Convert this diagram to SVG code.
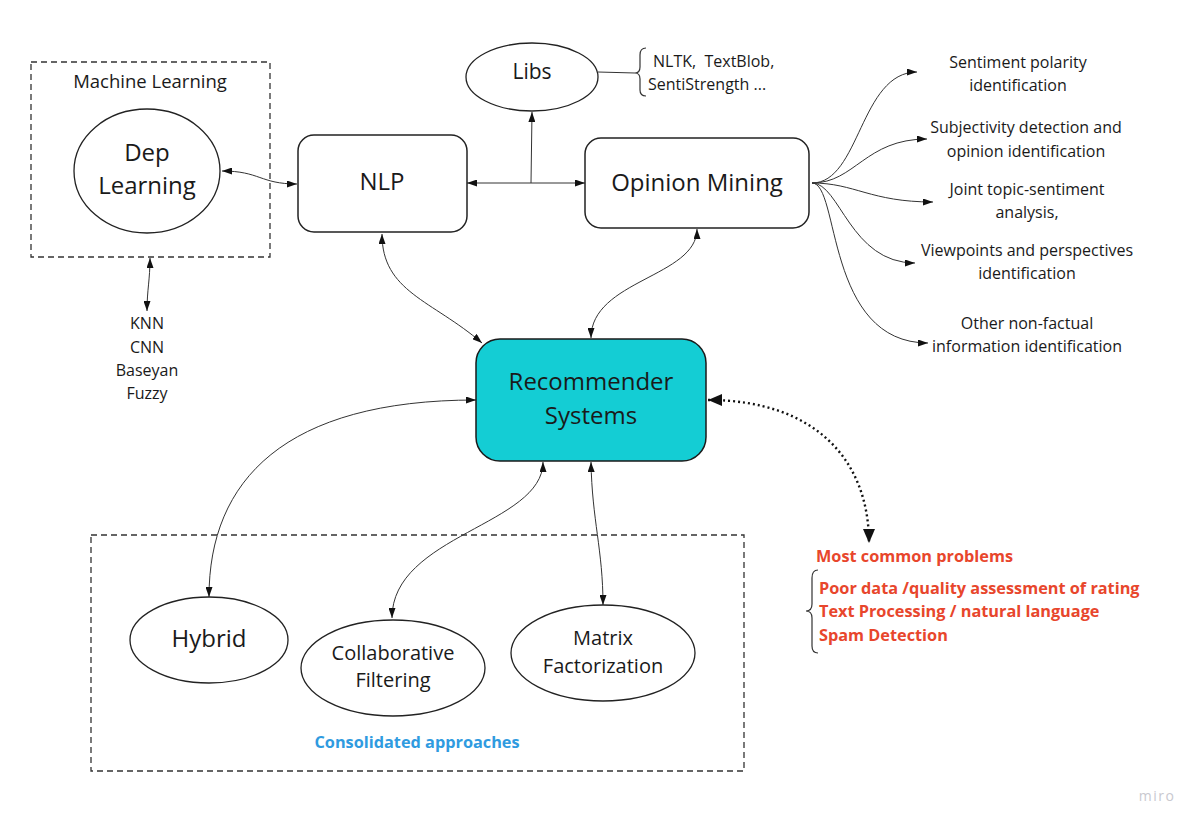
<svg xmlns="http://www.w3.org/2000/svg" width="1204" height="830" viewBox="0 0 1204 830">
<style>
text{font-family:"Open Sans","Liberation Sans",sans-serif;fill:#1a1a1a}
.t24{font-size:24px;text-anchor:middle}
.t20{font-size:20px;text-anchor:middle}
.t16{font-size:16px;text-anchor:middle}
.tl{font-size:16px}
.red{font-size:16.3px;font-weight:bold;fill:#e8462c}
.blue{font-size:16.3px;font-weight:bold;fill:#2f9be0;text-anchor:middle}
.box{fill:#fff;stroke:#222;stroke-width:1.5}
.ell{fill:#fff;stroke:#222;stroke-width:1.3}
.dash{fill:none;stroke:#333;stroke-width:1.3;stroke-dasharray:6 4}
.con{fill:none;stroke:#333;stroke-width:1}
.dot{fill:none;stroke:#111;stroke-width:2.4;stroke-dasharray:2 3}
.brace{fill:none;stroke:#333;stroke-width:1.2}
</style>
<defs>
<marker id="ah" viewBox="0 0 10 7" refX="10" refY="3.5" markerWidth="10" markerHeight="7" markerUnits="userSpaceOnUse" orient="auto-start-reverse">
<path d="M0,0 L10,3.5 L0,7 z" fill="#111"/>
</marker>
<marker id="ahb" viewBox="0 0 14 12" refX="14" refY="6" markerWidth="14" markerHeight="12" markerUnits="userSpaceOnUse" orient="auto-start-reverse">
<path d="M0,0 L14,6 L0,12 z" fill="#111"/>
</marker>
</defs>
<rect width="1204" height="830" fill="#fff"/>

<g id="machine-learning-group">
<rect class="dash" x="31" y="62" width="239" height="195"/>
<text x="150" y="88" style="font-size:18.5px;text-anchor:middle">Machine Learning</text>
</g>
<g id="consolidated-group">
<rect class="dash" x="91" y="535" width="653" height="236"/>
<text class="blue" x="417" y="748">Consolidated approaches</text>
</g>

<g id="connectors">
<path class="con" d="M222,171 C260,171 260,184 297,184" marker-start="url(#ah)" marker-end="url(#ah)"/>
<path class="con" d="M150,258 C150,280 147,290 147,311" marker-start="url(#ah)" marker-end="url(#ah)"/>
<path class="con" d="M467,183 L585,183" marker-start="url(#ah)" marker-end="url(#ah)"/>
<path class="con" d="M531,183 L532,112" marker-end="url(#ah)"/>
<path class="con" d="M598,72 L635,73"/>
<path class="con" d="M382,234 C382,292 432,300 482,343" marker-start="url(#ah)" marker-end="url(#ah)"/>
<path class="con" d="M697,229 C697,277 591,280 591,338" marker-start="url(#ah)" marker-end="url(#ah)"/>
<path class="con" d="M812,183 C860,183 860,72 917,72" marker-end="url(#ah)"/>
<path class="con" d="M812,183 C855,183 865,139 927,139" marker-end="url(#ah)"/>
<path class="con" d="M812,183 C855,183 870,202 933,202" marker-end="url(#ah)"/>
<path class="con" d="M812,183 C840,183 850,263 915,263" marker-end="url(#ah)"/>
<path class="con" d="M812,183 C840,183 825,343 928,343" marker-end="url(#ah)"/>
<path class="con" d="M209,597 C209,480 285,400 476,400" marker-start="url(#ah)" marker-end="url(#ah)"/>
<path class="con" d="M543,462 C543,525 392,535 392,618" marker-start="url(#ah)" marker-end="url(#ah)"/>
<path class="con" d="M591,462 C592,520 603,550 603,605" marker-start="url(#ah)" marker-end="url(#ah)"/>
<path class="dot" d="M708,400 C815,400 869,460 869,543" marker-start="url(#ahb)" marker-end="url(#ahb)"/>
</g>

<g id="dep-learning">
<ellipse class="ell" cx="147" cy="171" rx="73" ry="62"/>
<text class="t24" x="147" y="161">Dep</text>
<text class="t24" x="147" y="194">Learning</text>
</g>
<g id="knn-list">
<text class="t16" x="147" y="329">KNN</text>
<text class="t16" x="147" y="353">CNN</text>
<text class="t16" x="147" y="376">Baseyan</text>
<text class="t16" x="147" y="399">Fuzzy</text>
</g>
<g id="nlp">
<rect class="box" x="298" y="135" width="169" height="97" rx="16"/>
<text class="t24" x="382" y="190">NLP</text>
</g>
<g id="libs">
<ellipse class="ell" cx="532" cy="77" rx="66" ry="34"/>
<text x="532" y="79" style="font-size:21px;text-anchor:middle">Libs</text>
</g>
<g id="libs-list">
<path class="brace" d="M646,48 Q640,48 640,55 L640,67 Q640,73 635,73 Q640,73 640,79 L640,90 Q640,96 646,96"/>
<text class="tl" x="653" y="67" style="white-space:pre">NLTK,  TextBlob,</text>
<text class="tl" x="648" y="90">SentiStrength ...</text>
</g>
<g id="opinion-mining">
<rect class="box" x="585" y="138" width="224" height="90" rx="16"/>
<text class="t24" x="697" y="191">Opinion Mining</text>
</g>
<g id="om-targets">
<text class="t16" x="1018" y="68">Sentiment polarity</text>
<text class="t16" x="1018" y="91">identification</text>
<text class="t16" x="1026" y="133">Subjectivity detection and</text>
<text class="t16" x="1026" y="157">opinion identification</text>
<text class="t16" x="1027" y="195">Joint topic-sentiment</text>
<text class="t16" x="1027" y="218">analysis,</text>
<text class="t16" x="1027" y="256">Viewpoints and perspectives</text>
<text class="t16" x="1027" y="279">identification</text>
<text class="t16" x="1027" y="329">Other non-factual</text>
<text class="t16" x="1027" y="352">information identification</text>
</g>
<g id="recommender">
<rect x="476" y="339" width="230" height="122" rx="24" fill="#14cdd4" stroke="#1a1a1a" stroke-width="1.5"/>
<text class="t24" x="591" y="390">Recommender</text>
<text class="t24" x="591" y="424">Systems</text>
</g>
<g id="problems">
<text class="red" x="816" y="562">Most common problems</text>
<path class="brace" d="M818,570 Q812,570 812,578 L812,604 Q812,611 806,611 Q812,611 812,618 L812,646 Q812,653 818,653"/>
<text class="red" x="819" y="594">Poor data /quality assessment of rating</text>
<text class="red" x="819" y="617">Text Processing / natural language</text>
<text class="red" x="819" y="641">Spam Detection</text>
</g>
<g id="hybrid">
<ellipse class="ell" cx="209" cy="640" rx="79" ry="43"/>
<text class="t24" x="209" y="647">Hybrid</text>
</g>
<g id="collaborative">
<ellipse class="ell" cx="393" cy="668" rx="92" ry="48"/>
<text class="t20" x="393" y="660">Collaborative</text>
<text class="t20" x="393" y="687">Filtering</text>
</g>
<g id="matrix">
<ellipse class="ell" cx="603" cy="653" rx="92" ry="48"/>
<text class="t20" x="603" y="645">Matrix</text>
<text class="t20" x="603" y="673">Factorization</text>
</g>
<text x="1157" y="801" style="font-size:14px;fill:#c9c9cf;text-anchor:middle;letter-spacing:1.5px">miro</text>
</svg>
